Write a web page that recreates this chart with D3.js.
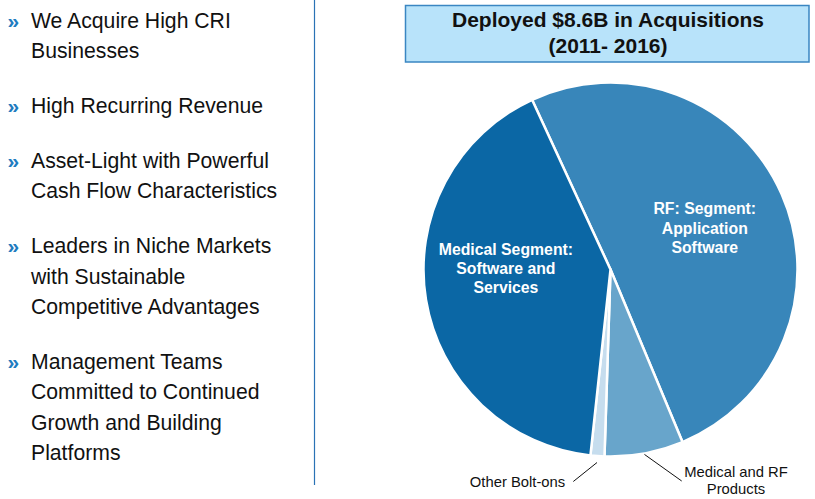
<!DOCTYPE html>
<html><head><meta charset="utf-8">
<script src="https://cdn.jsdelivr.net/npm/d3@7"></script>
<style>body{margin:0;background:#fff} svg{display:block;font-family:Arial,"Liberation Sans",sans-serif}</style>
</head><body><svg width="815" height="499"></svg>
<script>
// ---- data ----
const bullets = [
  ["We Acquire High CRI", "Businesses"],
  ["High Recurring Revenue"],
  ["Asset-Light with Powerful", "Cash Flow Characteristics"],
  ["Leaders in Niche Markets", "with Sustainable", "Competitive Advantages"],
  ["Management Teams", "Committed to Continued", "Growth and Building", "Platforms"]
];
const titleLines = ["Deployed $8.6B in Acquisitions", "(2011- 2016)"];
const categories = ["RF: Segment: Application Software", "Medical and RF Products", "Other Bolt-ons", "Medical Segment: Software and Services"];
const labelLines = [["RF: Segment:", "Application", "Software"], ["Medical and RF", "Products"], ["Other Bolt-ons"], ["Medical Segment:", "Software and", "Services"]];
const values = [50.6, 6.8, 1.2, 41.4];
const colors = ["#3886ba", "#68a5cb", "#c6ddee", "#0b67a5"];

// ---- layout ----
const svg = d3.select("svg");

// left bullets
let y = 27.7;
const step = 30.3, paraGap = 24.7;
const left = svg.append("g");
bullets.forEach((lines) => {
  left.append("text").attr("x", 7.5).attr("y", y).attr("font-size", 21).attr("font-weight", "bold")
    .attr("fill", "#1f7cc0").text("»");
  lines.forEach((ln) => {
    left.append("text").attr("x", 31).attr("y", y).attr("font-size", 21.2).attr("fill", "#111").text(ln);
    y += step;
  });
  y += paraGap;
});

// divider
svg.append("line").attr("x1", 314.5).attr("x2", 314.5).attr("y1", 0).attr("y2", 485)
  .attr("stroke", "#2a72b5").attr("stroke-width", 1.2);

// title box
svg.append("rect").attr("x", 405.5).attr("y", 5.5).attr("width", 403.5).attr("height", 56.5)
  .attr("fill", "#b8e3fa").attr("stroke", "#3a86c2").attr("stroke-width", 1.5);
titleLines.forEach((t, i) => {
  svg.append("text").attr("x", 608).attr("y", 26.7 + i * 26.3).attr("text-anchor", "middle")
    .attr("font-size", 21).attr("font-weight", "bold").attr("fill", "#111").text(t);
});

// pie
const cx = 610.5, cy = 269.5, R = 187;
const data = categories.map((c, i) => ({ c, v: values[i], lines: labelLines[i], color: colors[i] }));
const a0 = -24.8 * Math.PI / 180;
const pie = d3.pie().sort(null).value(d => d.v).startAngle(a0).endAngle(2 * Math.PI + a0);
const arcs = pie(data);
const arc = d3.arc().innerRadius(0).outerRadius(R);
const g = svg.append("g").attr("transform", `translate(${cx},${cy})`);
g.selectAll("path").data(arcs).join("path")
  .attr("d", arc).attr("fill", d => d.data.color)
  .attr("stroke", "#fff").attr("stroke-width", 2.5).attr("stroke-linejoin", "round");

// inside labels (large slices)
const inside = { 0: { r: 103, dx: 0, dy: 0 }, 3: { r: 106, dx: 0, dy: -18 } };
arcs.forEach((a, i) => {
  if (!inside[i]) return;
  const mid = (a.startAngle + a.endAngle) / 2;
  const px = Math.sin(mid) * inside[i].r + inside[i].dx;
  const py = -Math.cos(mid) * inside[i].r + inside[i].dy;
  const n = a.data.lines.length;
  a.data.lines.forEach((ln, li) => {
    g.append("text").attr("x", px).attr("y", py + (li - (n - 1) / 2) * 19.3 + 5.5)
      .attr("text-anchor", "middle").attr("font-size", 15.8).attr("font-weight", "bold")
      .attr("fill", "#fff").text(ln);
  });
});

// outside labels with leader lines (small slices)
const outside = {
  1: { r0: 188, lx: 681.7, ly: 481, tx: 736, ty: 477 },
  2: { r0: 193.5, lx: 573.3, ly: 481.5, tx: 517.5, ty: 487 }
};
arcs.forEach((a, i) => {
  const o = outside[i];
  if (!o) return;
  const mid = (a.startAngle + a.endAngle) / 2;
  const sx = cx + Math.sin(mid) * o.r0, sy = cy - Math.cos(mid) * o.r0;
  svg.append("line").attr("x1", sx).attr("y1", sy).attr("x2", o.lx).attr("y2", o.ly)
    .attr("stroke", "#111").attr("stroke-width", 1);
  a.data.lines.forEach((ln, li) => {
    svg.append("text").attr("x", o.tx).attr("y", o.ty + li * 17).attr("text-anchor", "middle")
      .attr("font-size", 14.8).attr("fill", "#111").text(ln);
  });
});
</script></body></html>
